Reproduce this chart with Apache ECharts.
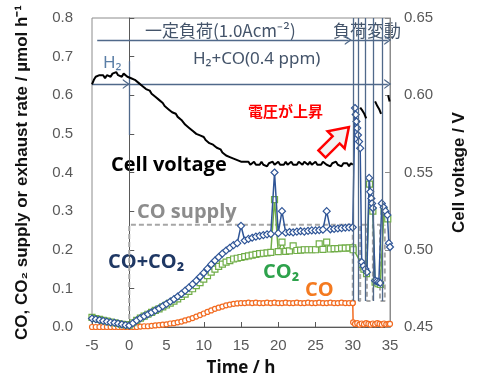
<!DOCTYPE html>
<html><head><meta charset="utf-8">
<script src="https://cdn.jsdelivr.net/npm/echarts@6/dist/echarts.min.js"></script>
<style>html,body{margin:0;padding:0;background:#fff}#c{width:482px;height:385px}</style>
</head><body><div id="c"></div>
<script>
// ---- data ----
const timeH = [-5,-4.5,-4,-3.5,-3,-2.5,-2,-1.5,-1,-0.5,0,0.5,1,1.5,2,2.5,3,3.5,4,4.5,5,5.5,6,6.5,7,7.5,8,8.5,9,9.5,10,10.5,11,11.5,12,12.5,13,13.5,14,14.5,15,15.5,16,16.5,17,17.5,18,18.5,19,19.5,20,20.5,21,21.5,22,22.5,23,23.5,24,24.5,25,25.5,26,26.5,27,27.5,28,28.5,29,29.5,30];
const coPlusCo2 = [0.022,0.02,0.018,0.016,0.014,0.012,0.011,0.009,0.007,0.005,0.004,0.01,0.017,0.023,0.028,0.033,0.038,0.043,0.048,0.054,0.06,0.066,0.072,0.079,0.086,0.094,0.102,0.111,0.12,0.13,0.14,0.151,0.162,0.172,0.181,0.19,0.198,0.205,0.212,0.217,0.262,0.224,0.228,0.231,0.234,0.236,0.238,0.24,0.241,0.40,0.243,0.30,0.244,0.246,0.245,0.247,0.248,0.247,0.249,0.25,0.25,0.251,0.252,0.30,0.253,0.254,0.255,0.256,0.257,0.258,0.258];
const co2 = [0.025,0.022,0.02,0.017,0.015,0.013,0.011,0.009,0.007,0.006,0.005,0.011,0.017,0.023,0.028,0.033,0.038,0.043,0.047,0.052,0.057,0.062,0.067,0.073,0.079,0.085,0.092,0.099,0.107,0.115,0.124,0.133,0.142,0.15,0.157,0.163,0.168,0.172,0.176,0.178,0.18,0.182,0.184,0.186,0.188,0.19,0.191,0.192,0.193,0.33,0.195,0.22,0.196,0.197,0.21,0.198,0.199,0.2,0.2,0.2,0.2,0.215,0.201,0.22,0.202,0.203,0.203,0.204,0.204,0.205,0.205];
const co = [0,0,0,0,0,0,0,0,0,0,0,0,0,0.001,0.002,0.002,0.003,0.004,0.005,0.006,0.007,0.009,0.01,0.012,0.014,0.017,0.02,0.023,0.027,0.031,0.035,0.039,0.043,0.047,0.05,0.053,0.056,0.058,0.06,0.061,0.062,0.062,0.063,0.062,0.063,0.062,0.062,0.063,0.062,0.063,0.062,0.062,0.063,0.062,0.062,0.063,0.062,0.062,0.063,0.062,0.062,0.063,0.062,0.062,0.063,0.062,0.062,0.063,0.062,0.062,0.062];

const voltTime = [-5,-4.75,-4.5,-4.25,-4,-3.75,-3.5,-3.25,-3,-2.75,-2.5,-2.25,-2,-1.75,-1.5,-1.25,-1,-0.75,-0.5,-0.25,0,
  0.25,0.5,0.75,1,1.25,1.5,1.75,2,2.25,2.5,2.75,3,3.25,3.5,3.75,4,4.25,4.5,4.75,5,
  5.25,5.5,5.75,6,6.25,6.5,6.75,7,7.25,7.5,7.75,8,8.25,8.5,8.75,9,9.25,9.5,9.75,10,
  10.25,10.5,10.75,11,11.25,11.5,11.75,12,12.25,12.5,12.75,13,13.25,13.5,13.75,14,14.25,14.5,14.75,15,
  15.25,15.5,15.75,16,16.25,16.5,16.75,17,17.25,17.5,17.75,18,18.25,18.5,18.75,19,19.25,19.5,19.75,20,
  20.25,20.5,20.75,21,21.25,21.5,21.75,22,22.25,22.5,22.75,23,23.25,23.5,23.75,24,24.25,24.5,24.75,25,
  25.25,25.5,25.75,26,26.25,26.5,26.75,27,27.25,27.5,27.75,28,28.25,28.5,28.75,29,29.25,29.5,29.75,30];
const cellVoltage = [0.607,0.610,0.612,0.611,0.613,0.612,0.613,0.611,0.613,0.614,0.612,0.614,0.613,0.615,0.613,0.614,0.612,0.614,0.613,0.612,0.613,
  0.611,0.612,0.610,0.610,0.608,0.608,0.606,0.606,0.604,0.604,0.603,0.601,0.601,0.599,0.599,0.597,0.596,0.595,0.593,0.593,
  0.591,0.591,0.589,0.588,0.588,0.586,0.585,0.584,0.583,0.581,0.581,0.579,0.579,0.577,0.577,0.575,0.576,0.574,0.573,0.573,
  0.571,0.571,0.569,0.569,0.568,0.567,0.566,0.565,0.565,0.563,0.563,0.561,0.562,0.560,0.561,0.559,0.560,0.558,0.559,0.557,
  0.558,0.557,0.556,0.557,0.555,0.556,0.557,0.555,0.556,0.555,0.557,0.555,0.556,0.554,0.556,0.555,0.557,0.555,0.556,0.557,
  0.555,0.556,0.555,0.557,0.555,0.556,0.557,0.555,0.556,0.555,0.557,0.556,0.555,0.557,0.556,0.555,0.557,0.555,0.556,0.557,
  0.555,0.556,0.555,0.557,0.556,0.555,0.556,0.554,0.556,0.555,0.557,0.555,0.556,0.554,0.556,0.555,0.556,0.554,0.556,0.555];

// load-fluctuation period (t = 30 .. 35 h)
const loadTimeBlue = [30.3,30.4,30.5,30.6,30.7,30.85,31.0,31.2,31.45,31.7,31.9,32.2,32.35,32.5,32.6,32.7,33.0,33.25,33.5,33.7,33.9,34.15,34.4,34.65,34.85,35.0];
const loadCoPlusCo2 = [0.567,0.55,0.532,0.515,0.497,0.48,0.463,0.168,0.158,0.15,0.142,0.386,0.35,0.333,0.32,0.308,0.12,0.118,0.116,0.114,0.32,0.31,0.30,0.29,0.217,0.207];
const loadTimeGreen = [30.05,31.2,31.5,31.85,32.25,32.7,33.0,33.4,33.7,34.2,34.7];
const loadCo2 = [0.2,0.162,0.15,0.138,0.37,0.30,0.116,0.112,0.11,0.30,0.28];
const loadTimeCo = [30.0,30.05,30.3,30.6,30.9,31.2,31.5,31.8,32.1,32.4,32.7,33.0,33.3,33.6,33.9,34.2,34.5,34.8,35.0];
const loadCo = [0.062,0.012,0.008,0.01,0.006,0.009,0.007,0.01,0.008,0.006,0.009,0.007,0.01,0.008,0.006,0.009,0.007,0.008,0.008];
const loadTimeVolt = [31.0,31.3,31.55,31.8,null,33.0,33.3,33.55,33.8,null,34.75,34.95];
const loadVoltage = [0.592,0.590,0.588,0.585,null,0.596,0.593,0.591,0.588,null,0.600,0.596];

// CO supply (dashed)
const supplyTime = [0,0,30,30,31.0,31.0,31.9,31.9,32.7,32.7,33.66,33.66,34.3,34.3];
const supplyRate = [0,0.265,0.265,0.067,0.067,0.265,0.265,0.067,0.067,0.265,0.265,0.067,0.067,0.265];

// load step markers (h)
const loadSteps = [30.0,30.7,31.64,32.72,33.93];

const xTicks = [-5,0,5,10,15,20,25,30,35];

// ---- chart ----
const pair = (ts, vs) => ts.map((t, i) => (t === null ? [null, null] : [t, vs[i]]));
const chart = echarts.init(document.getElementById('c'), null, {renderer: 'canvas'});
const annoColor = '#50698a';
const chevron = 'path://M0,10 L5,0 L10,10 L8.6,10 L5,3.2 L1.4,10 Z';
const tickFont = {color: '#595959', fontSize: 15, fontFamily: 'Liberation Sans'};

const stepLines = loadSteps.map(t => [{coord: [t, 0.8], symbol: 'none'}, {coord: [t, 0.067], symbol: 'none'}]);
const annoLines = [
  [{coord: [-4.3, 0.743], symbol: 'none'}, {coord: [29.4, 0.743], symbol: chevron, symbolSize: [10, 7]}],
  [{coord: [29.4, 0.743], symbol: 'none'}, {coord: [34.7, 0.743], symbol: chevron, symbolSize: [10, 7]}],
  [{coord: [-5, 0.629], symbol: 'none'}, {coord: [-0.4, 0.629], symbol: chevron, symbolSize: [10, 7]}],
  [{coord: [-0.4, 0.629], symbol: 'none'}, {coord: [34.7, 0.629], symbol: chevron, symbolSize: [10, 7]}],
  [{coord: [0, 0.688], symbol: 'none'}, {coord: [0, 0.497], symbol: 'none'}]
].concat(stepLines);

const option = {
  animation: false,
  grid: {left: 92, right: 92, top: 18, bottom: 58, show: true, borderColor: '#8c8c8c', borderWidth: 1},
  xAxis: {
    type: 'value', min: -5, max: 35, interval: 5,
    name: 'Time / h', nameLocation: 'middle', nameGap: 33,
    nameTextStyle: {fontSize: 17, fontWeight: 'bold', color: '#111', fontFamily: 'Open Sans'},
    axisLine: {lineStyle: {color: '#595959'}},
    axisTick: {inside: true, length: 5, lineStyle: {color: '#595959'}},
    axisLabel: Object.assign({margin: 11, formatter: v => (xTicks.includes(v) ? String(v) : '')}, tickFont),
    splitLine: {show: false}
  },
  yAxis: [{
    type: 'value', min: 0, max: 0.8, interval: 0.1,
    name: 'CO, CO\u2082 supply or exhaust rate / \u00b5mol h\u207b\u00b9', nameLocation: 'middle', nameGap: 61, nameRotate: 90,
    nameTextStyle: {fontSize: 17, fontWeight: 'bold', color: '#111', fontFamily: 'Liberation Sans'},
    axisLine: {show: true, lineStyle: {color: '#595959'}},
    axisTick: {show: true, inside: true, length: 5, lineStyle: {color: '#595959'}},
    axisLabel: Object.assign({margin: 19, formatter: v => v.toFixed(1)}, tickFont),
    splitLine: {show: false}
  }, {
    type: 'value', min: 0.45, max: 0.65, interval: 0.05, position: 'right',
    name: 'Cell voltage / V', nameLocation: 'middle', nameGap: 61, nameRotate: 90,
    nameTextStyle: {fontSize: 17, fontWeight: 'bold', color: '#111', fontFamily: 'Liberation Sans'},
    axisLine: {show: true, lineStyle: {color: '#8c8c8c'}},
    axisTick: {show: true, inside: true, length: 5, lineStyle: {color: '#8c8c8c'}},
    axisLabel: Object.assign({margin: 14, formatter: v => v.toFixed(2)}, tickFont),
    splitLine: {show: false}
  }],
  series: [
    {
      name: 'CO supply', type: 'line', yAxisIndex: 0, z: 1,
      data: pair(supplyTime, supplyRate), showSymbol: false,
      lineStyle: {color: '#a6a6a6', width: 2, type: [5, 3]},
      markLine: {silent: true, animation: false, symbol: 'none', label: {show: false},
        lineStyle: {color: annoColor, width: 1.3, type: 'solid'}, data: annoLines}
    },
    {
      name: 'CO', type: 'line', yAxisIndex: 0, z: 2,
      data: pair(timeH, co).concat(pair(loadTimeCo, loadCo)),
      symbol: 'circle', symbolSize: 5, showAllSymbol: true,
      lineStyle: {color: '#f26b21', width: 1.5},
      itemStyle: {color: '#fff', borderColor: '#f26b21', borderWidth: 1.2}
    },
    {
      name: 'CO2', type: 'line', yAxisIndex: 0, z: 3,
      data: pair(timeH, co2).concat(pair(loadTimeGreen, loadCo2)),
      symbol: 'rect', symbolSize: 6, showAllSymbol: true,
      lineStyle: {color: '#70ad47', width: 1.5},
      itemStyle: {color: '#fff', borderColor: '#70ad47', borderWidth: 1.2}
    },
    {
      name: 'CO+CO2', type: 'line', yAxisIndex: 0, z: 4,
      data: pair(timeH, coPlusCo2).concat(pair(loadTimeBlue, loadCoPlusCo2)),
      symbol: 'diamond', symbolSize: 7, showAllSymbol: true,
      lineStyle: {color: '#2f5597', width: 1.5},
      itemStyle: {color: '#fff', borderColor: '#2f5597', borderWidth: 1.2}
    },
    {
      name: 'Cell voltage', type: 'line', yAxisIndex: 1, z: 5,
      data: pair(voltTime, cellVoltage), showSymbol: false,
      lineStyle: {color: '#000', width: 2}
    },
    {
      name: 'Cell voltage (load)', type: 'line', yAxisIndex: 1, z: 5,
      data: pair(loadTimeVolt, loadVoltage), showSymbol: false, connectNulls: false,
      lineStyle: {color: '#000', width: 2}
    }
  ],
  graphic: [
    {type: 'text', x: 145, y: 31, style: {text: '\u4e00\u5b9a\u8ca0\u8377(1.0Acm\u207b\u00b2)', fill: '#44546a', fontSize: 17, fontFamily: 'Noto Sans CJK JP', textVerticalAlign: 'middle'}},
    {type: 'text', x: 333, y: 31, style: {text: '\u8ca0\u8377\u5909\u52d5', fill: '#44546a', fontSize: 17, fontFamily: 'Noto Sans CJK JP', textVerticalAlign: 'middle'}},
    {type: 'text', x: 103, y: 63, style: {text: 'H\u2082', fill: '#5a7ea6', fontSize: 17, fontFamily: 'Noto Sans', textVerticalAlign: 'middle'}},
    {type: 'text', x: 193, y: 59, style: {text: 'H\u2082+CO(0.4 ppm)', fill: '#44546a', fontSize: 17, fontFamily: 'Noto Sans', textVerticalAlign: 'middle'}},
    {type: 'text', x: 248, y: 111, style: {text: '\u96fb\u5727\u304c\u4e0a\u6607', fill: '#ff0000', fontSize: 15, fontWeight: 'bold', fontFamily: 'Noto Sans CJK JP', textVerticalAlign: 'middle'}},
    {type: 'polygon', x: 322, y: 154, rotation: Math.PI / 4,
      shape: {points: [[0, -5], [20, -5], [20, -12], [38, 0], [20, 12], [20, 5], [0, 5]]},
      style: {fill: '#f2f2f2', stroke: '#ff0000', lineWidth: 2.5}, z: 10},
    {type: 'text', x: 111, y: 165, style: {text: 'Cell voltage', fill: '#000', fontSize: 20, fontWeight: 'bold', fontFamily: 'Open Sans', textVerticalAlign: 'middle'}},
    {type: 'text', x: 137, y: 212, style: {text: 'CO supply', fill: '#8c8c8c', fontSize: 20, fontWeight: 'bold', fontFamily: 'Open Sans', textVerticalAlign: 'middle'}},
    {type: 'text', x: 108, y: 262, style: {text: 'CO+CO\u2082', fill: '#1f3864', fontSize: 20, fontWeight: 'bold', fontFamily: 'Open Sans', textVerticalAlign: 'middle'}},
    {type: 'text', x: 263, y: 272, style: {text: 'CO\u2082', fill: '#2ea24c', fontSize: 20, fontWeight: 'bold', fontFamily: 'Open Sans', textVerticalAlign: 'middle'}},
    {type: 'text', x: 305, y: 290, style: {text: 'CO', fill: '#f47a20', fontSize: 20, fontWeight: 'bold', fontFamily: 'Open Sans', textVerticalAlign: 'middle'}}
  ]
};
chart.setOption(option);
</script></body></html>
